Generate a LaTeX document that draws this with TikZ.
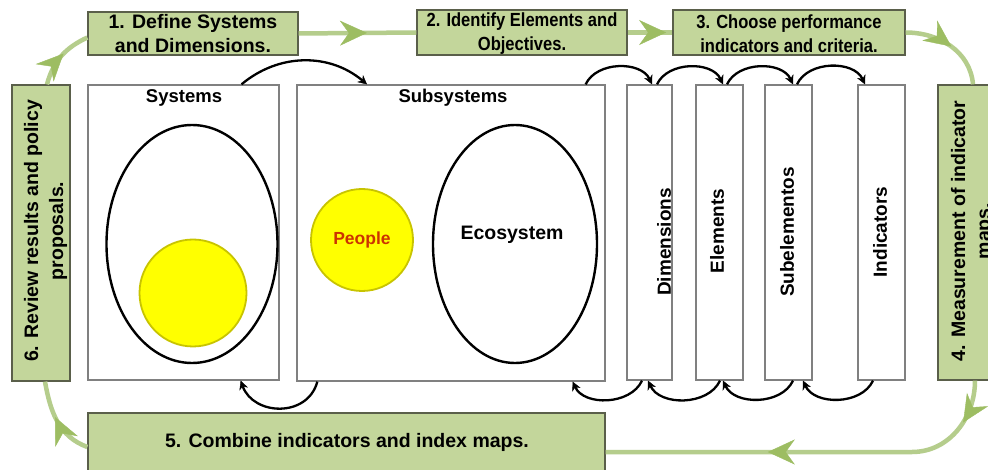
\documentclass[tikz,border=0pt]{standalone}
\usepackage{fontspec}
\setmainfont{Liberation Sans}
\newfontfamily\narrowsans{Liberation Sans}[FakeStretch=0.87]
\usetikzlibrary{arrows.meta,decorations.markings,shapes.geometric}

\definecolor{stepfill}{HTML}{C3D69B}
\definecolor{stepline}{HTML}{5A5F4A}
\definecolor{flowline}{HTML}{B5CD8C}
\definecolor{flowhead}{HTML}{9DBD62}
\definecolor{framegray}{HTML}{808080}
\definecolor{peoplered}{HTML}{CC3300}
\definecolor{yolk}{HTML}{FFFF00}
\definecolor{yolkedge}{HTML}{C8C400}

\tikzset{
  stepbox/.style={draw=stepline, line width=1.3pt, fill=stepfill, inner sep=0pt},
  panel/.style={draw=framegray, line width=1.3pt, fill=white, inner sep=0pt},
  steptext/.style={align=center, font=\bfseries\fontsize{19.5}{24}\selectfont, inner sep=0pt},
  narrowtext/.style={align=center, font=\narrowsans\bfseries\fontsize{19}{24}\selectfont, inner sep=0pt},
  sidetext/.style={rotate=90, align=center, font=\bfseries\fontsize{19.5}{25}\selectfont, inner sep=0pt},
  bartext/.style={rotate=90, font=\bfseries\fontsize{19}{23}\selectfont, inner sep=0pt},
  titletext/.style={font=\bfseries\fontsize{18.5}{22}\selectfont, inner sep=0pt},
  bighead/.tip={Stealth[length=27pt, width=25pt, inset=9pt, line width=0.4pt, color=flowhead]},
  flow/.style={draw=flowline, line width=4.5pt, postaction=decorate},
  flowmark/.style={decoration={markings, mark=at position #1 with {\arrow{bighead}}}},
  arcflow/.style={draw=black, line width=2.3pt, -{Stealth[length=9pt, width=9pt, line width=0.4pt]}},
  yolkdisc/.style={circle, fill=yolk, draw=yolkedge, line width=1.8pt, inner sep=0pt},
  shell/.style={ellipse, draw=black, line width=2.4pt, inner sep=0pt}
}

\begin{document}
\begin{tikzpicture}[x=1pt, y=1pt]
\useasboundingbox (0,0) rectangle (988,-470);
\clip (0,0) rectangle (988,-470);
\fill[white] (0,0) rectangle (988,-470);

% process steps around the frame
\node[stepbox, minimum width=210, minimum height=43] (b1) at (193,-33.5) {};
\node[steptext] (b1t) at (193,-34) {1. Define Systems\\and Dimensions.};
\node[stepbox, minimum width=210, minimum height=45] (b2) at (522,-32.5) {};
\node[narrowtext] (b2t) at (522,-34) {2. Identify Elements and\\Objectives.};
\node[stepbox, minimum width=232, minimum height=45] (b3) at (789,-32.5) {};
\node[narrowtext] (b3t) at (789,-34) {3. Choose performance\\indicators and criteria.};
\node[stepbox, minimum width=58, minimum height=295] (b4) at (967,-232.5) {};
\node[sidetext] (b4t) at (972.5,-231) {4. Measurement of indicator\\maps.};
\node[stepbox, minimum width=517, minimum height=62] (b5) at (346.5,-444) {};
\node[steptext] (b5t) at (347,-442) {5. Combine indicators and index maps.};
\node[stepbox, minimum width=58, minimum height=296] (b6) at (41,-233) {};
\node[sidetext] (b6t) at (45.5,-231) {6. Review results and policy\\proposals.};

% central panels
\node[panel, minimum width=191, minimum height=295] (sys) at (183.5,-232.5) {};
\node[titletext] (syst) at (184,-98) {Systems};
\node[shell, minimum width=171, minimum height=238] (sysshell) at (192,-244) {};
\node[yolkdisc, minimum size=107] (sysyolk) at (193,-293) {};

\node[panel, minimum width=308, minimum height=296] (sub) at (451,-233) {};
\node[titletext] (subt) at (453,-98) {Subsystems};
\node[yolkdisc, minimum size=102] (people) at (362,-240) {};
\node[titletext, text=peoplered, font=\bfseries\fontsize{17.5}{20}\selectfont] (peoplet) at (362,-240) {People};
\node[shell, minimum width=164, minimum height=238] (eco) at (515,-244) {};
\node[titletext, font=\bfseries\fontsize{19.5}{22}\selectfont] (ecot) at (512,-235) {Ecosystem};

% hierarchy bars
\node[panel, minimum width=45, minimum height=295] (dim) at (649.5,-232.5) {};
\node[bartext] (dimt) at (664,-242) {Dimensions};
\node[panel, minimum width=47, minimum height=295] (el) at (719.5,-232.5) {};
\node[bartext] (elt) at (717,-231) {Elements};
\node[panel, minimum width=47, minimum height=295] (sube) at (788.5,-232.5) {};
\node[bartext] (subet) at (787,-232) {Subelementos};
\node[panel, minimum width=47, minimum height=295] (ind) at (881.5,-232.5) {};
\node[bartext] (indt) at (880,-232) {Indicators};

% cycle of steps
\coordinate (turn4) at (912,-452);
\draw[flow, flowmark=0.58] (b1.east) -- (b2.west);
\draw[flow, flowmark=0.86] (b2.east) -- (b3.west);
\draw[flow, flowmark=0.52] (b3.east) to[out=0, in=95] ([xshift=6pt]b4.north);
\draw[flow, decoration={markings,
    mark=at position 44pt with {\arrow{bighead}},
    mark=at position 250pt with {\arrow{bighead}}}]
  ([xshift=8pt]b4.south) to[out=-90, in=0] (turn4) -- ([yshift=-8pt]b5.east);
\draw[flow, flowmark=0.55] ([yshift=-3pt]b5.west) to[out=160, in=-80] ([xshift=4pt]b6.south);
\draw[flow, flowmark=0.55] ([xshift=6pt]b6.north) to[out=75, in=205] ([yshift=-4pt]b1.west);

% links between panels
\draw[arcflow] ([xshift=58pt]sys.north) to[out=40, in=140] ([xshift=-84pt]sub.north);
\draw[arcflow] ([xshift=21pt]sub.south west) to[out=-105, in=-70, looseness=1.25] ([xshift=-39pt]sys.south east);

\draw[arcflow] ([xshift=-20pt]sub.north east) to[out=65, in=115] ([xshift=2.5pt]dim.north);
\draw[arcflow] ([xshift=7.5pt]dim.north) to[out=65, in=115] ([xshift=3.5pt]el.north);
\draw[arcflow] ([xshift=7.5pt]el.north) to[out=65, in=115] ([xshift=4.5pt]sube.north);
\draw[arcflow] ([xshift=8.5pt]sube.north) to[out=65, in=115] ([xshift=-16.5pt]ind.north);

\draw[arcflow] ([xshift=-7.5pt]dim.south) to[out=-115, in=-65] ([xshift=-33pt]sub.south east);
\draw[arcflow] ([xshift=0.5pt]el.south) to[out=-115, in=-65] ([xshift=-1.5pt]dim.south);
\draw[arcflow] ([xshift=4.5pt]sube.south) to[out=-115, in=-65] ([xshift=3.5pt]el.south);
\draw[arcflow] ([xshift=-8.5pt]ind.south) to[out=-115, in=-65] ([xshift=14.5pt]sube.south);
\end{tikzpicture}
\end{document}
